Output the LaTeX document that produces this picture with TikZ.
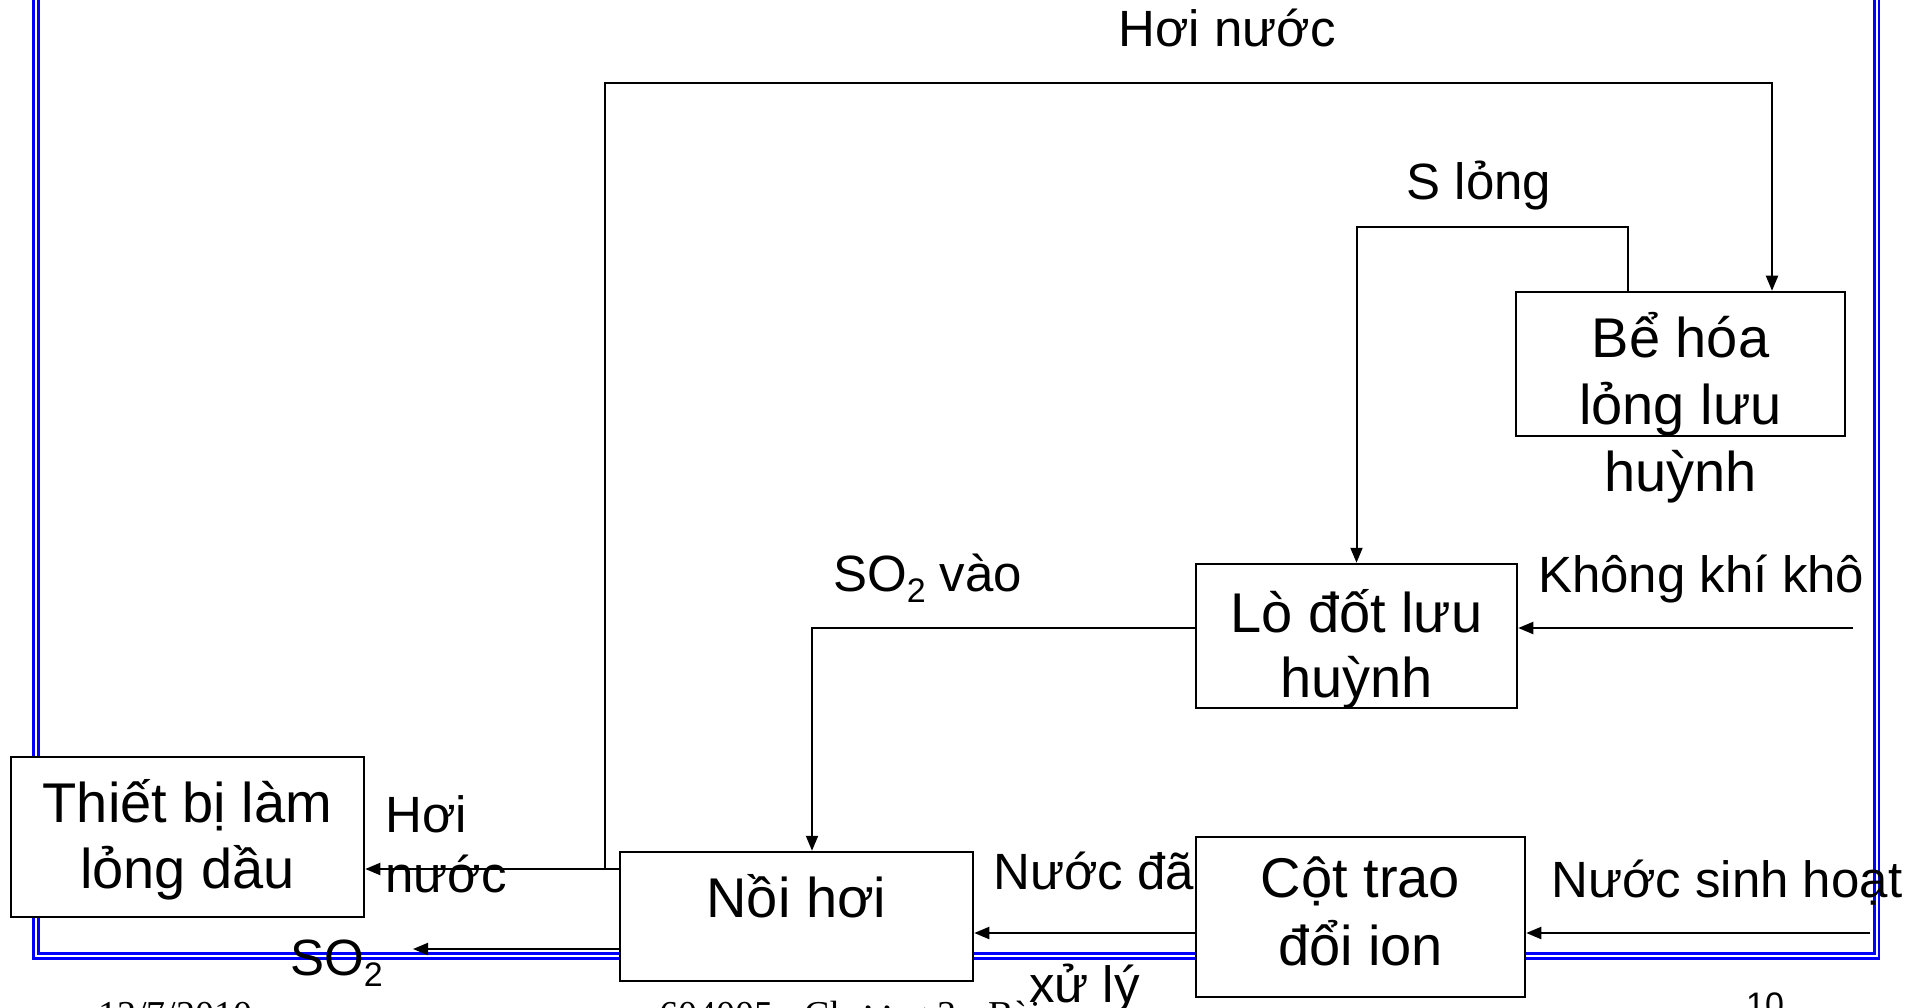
\documentclass[tikz,border=0pt]{standalone}
\usepackage{fontspec}
\setmainfont{Liberation Sans}
\newfontfamily\footserif{Liberation Serif}
\usetikzlibrary{arrows.meta}
% lowered subscript digit for SO2
\newcommand\subtwo{\raisebox{-0.22em}{\fontsize{34}{34}\selectfont 2}}

\begin{document}
\begin{tikzpicture}[x=1pt,y=-1pt,
  box/.style={draw=black, line width=2.5pt, fill=white, inner sep=0pt},
  boxtext/.style={font=\fontsize{56}{66}\selectfont, inner sep=0pt, anchor=base},
  lbl/.style={font=\fontsize{51}{60}\selectfont, inner sep=0pt},
  foot/.style={inner sep=0pt},
  flow/.style={line width=2pt, -{Triangle[length=15pt,width=12pt]}},
  frame/.style={draw=blue, line width=2.6pt}
]
\useasboundingbox (0,0) rectangle (1924,1008);
\clip (0,0) rectangle (1924,1008);
\fill[white] (0,0) rectangle (1924,1008);

% slide frame (double blue line, open at the top)
\draw[frame] (33.5,-5) -- (33.5,958.5) -- (1879,958.5) -- (1879,-5);
\draw[frame] (38.5,-5) -- (38.5,953.5) -- (1874.5,953.5) -- (1874.5,-5);

% process units
\node[box, minimum width=353pt, minimum height=160pt] (thiet) at (187.5,837) {};
\node[box, minimum width=353pt, minimum height=129pt] (noi)   at (796.5,916.5) {};
\node[box, minimum width=329pt, minimum height=160pt] (cot)   at (1360.5,917) {};
\node[box, minimum width=321pt, minimum height=144pt] (lo)    at (1356.5,636) {};
\node[box, minimum width=329pt, minimum height=144pt] (be)    at (1680.5,364) {};

% unit captions
\node[boxtext] (thietA) at (187.5,822) {Thiết bị làm};
\node[boxtext] (thietB) at (187.5,888) {lỏng dầu};
\node[boxtext] (noiA)   at (796.5,917) {Nồi hơi};
\node[boxtext] (cotA)   at (1360.5,897) {Cột trao};
\node[boxtext] (cotB)   at (1360.5,965) {đổi ion};
\node[boxtext] (loA)    at (1356.5,632) {Lò đốt lưu};
\node[boxtext] (loB)    at (1356.5,697) {huỳnh};
\node[boxtext] (beA)    at (1680.5,357) {Bể hóa};
\node[boxtext] (beB)    at (1680.5,424) {lỏng lưu};
\node[boxtext] (beC)    at (1680.5,491) {huỳnh};

% bend points and free ends of the streams
\coordinate (steamJ)  at (605,869);
\coordinate (steamT)  at (605,83);
\coordinate (steamX)  at (1772,0);
\coordinate (sulfX)   at (1628,0);
\coordinate (sulfT)   at (1356.5,227);
\coordinate (so2Y)    at (0,628);
\coordinate (so2X)    at (812,0);
\coordinate (airIn)   at (1853,628);
\coordinate (waterIn) at (1870,933);
\coordinate (so2Out)  at (413,949);

% streams
\draw[flow] (noi.west |- steamJ) -- (thiet.east |- steamJ);
\draw[flow] (steamJ) -- (steamT) -| (steamX |- be.north);
\draw[flow] (sulfX |- be.north) |- (sulfT) -- (lo.north);
\draw[flow] (lo.west |- so2Y) -| (so2X |- noi.north);
\draw[flow] (airIn) -- (lo.east |- airIn);
\draw[flow] (waterIn) -- (cot.east |- waterIn);
\draw[flow] (cot.west |- waterIn) -- (noi.east |- waterIn);
\draw[flow] (noi.west |- so2Out) -- (so2Out);

% stream labels
\node[lbl, anchor=base] (lSteamTop) at (1227,47) {Hơi nước};
\node[lbl, anchor=base] (lSulf) at (1479,200) {S lỏng};
\node[lbl, anchor=base west] (lAir) at (1538,592) {Không khí khô};
\node[lbl, anchor=base west] (lSo2In) at (833,591) {SO\subtwo{} vào};
\node[lbl, anchor=base west] (lTreatA) at (993,889) {Nước đã};
\node[lbl, anchor=base west] (lTreatB) at (1029,1002) {xử lý};
\node[lbl, anchor=base west] (lWater) at (1551,897) {Nước sinh hoạt};
\node[lbl, anchor=base west] (lSteamA) at (385,832) {Hơi};
\node[lbl, anchor=base west] (lSteamB) at (385,892) {nước};
\node[lbl, anchor=base west] (lSo2Out) at (290,975) {SO\subtwo};

% slide footer
\node[foot, anchor=base west, font=\footserif\fontsize{38}{40}\selectfont] (fDate) at (98,1027) {12/7/2010};
\node[foot, anchor=base west, font=\footserif\fontsize{38}{40}\selectfont] (fTitle) at (659,1027) {604005 - Chương 3 - Bài};
\node[foot, anchor=base, font=\fontsize{34}{40}\selectfont] (fPage) at (1765,1016) {10};
\end{tikzpicture}
\end{document}
